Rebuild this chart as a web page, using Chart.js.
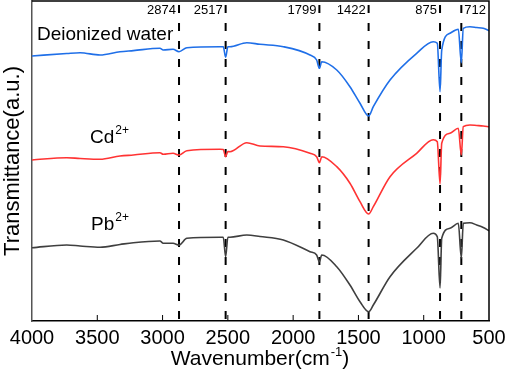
<!DOCTYPE html>
<html>
<head>
<meta charset="utf-8">
<script src="https://cdn.jsdelivr.net/npm/chart.js@4.4.1/dist/chart.umd.min.js"></script>
<style>
  html, body { margin: 0; padding: 0; background: #fff; }
  #wrap { width: 505px; height: 374px; }
</style>
</head>
<body>
<div id="wrap"><canvas id="ftirChart"></canvas></div>
<script>
// FTIR spectra (arbitrary transmittance units, curves offset)
const wavenumbers = [4000, 3734, 3632, 3479, 3326, 3224, 3020, 2995, 2920, 2874, 2814, 2560, 2535, 2517, 2500, 2484,
    2355, 2254, 2075, 1871, 1820, 1799, 1781, 1666, 1565, 1488, 1422, 1386, 1258, 1054, 927, 896, 875, 862,
    799, 735, 712, 697, 646, 594, 544, 500];
const waterT = [265, 267.5, 268.3, 266, 269.3, 270.4, 272.7, 271, 271.7, 269.3, 273.3, 274.3, 274.3, 263.7, 274.3, 274.3,
    278.3, 276.7, 274.3, 266, 261, 252.7, 259.3, 251, 234.3, 217.7, 205, 214.3, 241, 267.7, 279.3, 277.7, 229.3, 271,
    287.7, 291.7, 258.3, 292.7, 294.3, 293.5, 292.7, 290.3];
const cdT = [161, 163.3, 162.5, 161.7, 165, 166, 168.3, 166.7, 167.7, 166, 170.3, 171.7, 171.5, 164.3, 169.5, 169.3,
    178.3, 175, 174.3, 167.7, 164.3, 158.3, 164.3, 154.3, 137.7, 119.3, 107, 114.3, 144.3, 167.7, 181.3, 179.3, 137, 177.7,
    187.7, 192.7, 166, 194.3, 196, 195.5, 195, 194.3];
const pbT = [73.3, 76, 75, 73.7, 76.5, 78.3, 80, 77.7, 77.7, 76, 82.7, 83.7, 83.7, 64.3, 83.7, 83.7,
    86, 84.5, 81, 69.3, 66, 59.3, 66, 54.3, 36, 19.3, 9.3, 16, 44.3, 72.7, 87.7, 84.3, 33, 82.7,
    92.7, 97.7, 63, 97.7, 98.3, 96, 93.5, 90.3];
const peaks = [2874, 2517, 1799, 1422, 875, 712];
const xTicks = [4000, 3500, 3000, 2500, 2000, 1500, 1000, 500];

const FONT = "'Liberation Sans', Arial, sans-serif";

function toPoints(vals) {
    return wavenumbers.map((w, i) => ({ x: w, y: vals[i] }));
}

const datasets = [
    { data: toPoints(waterT), borderColor: '#1f6fe8' },
    { data: toPoints(cdT), borderColor: '#ff3333' },
    { data: toPoints(pbT), borderColor: '#3f3f3f' }
].map(d => Object.assign(d, {
    borderWidth: 1.6, pointRadius: 0, fill: false, cubicInterpolationMode: 'monotone'
}));

// dashed marker lines at the assigned bands
peaks.forEach(p => {
    datasets.push({
        data: [{ x: p, y: 316 }, { x: p, y: 0 }],
        borderColor: '#000', borderWidth: 2, borderDash: [8, 10],
        pointRadius: 0, fill: false
    });
});

// superscript text helper
function drawSup(ctx, base, sup, x, y, size, align) {
    ctx.font = size + 'px ' + FONT;
    const wb = ctx.measureText(base).width;
    ctx.font = Math.round(size * 0.62) + 'px ' + FONT;
    const ws = ctx.measureText(sup).width;
    let x0 = x;
    if (align === 'center') x0 = x - (wb + ws) / 2;
    ctx.textAlign = 'left';
    ctx.textBaseline = 'alphabetic';
    ctx.font = size + 'px ' + FONT;
    ctx.fillText(base, x0, y);
    ctx.font = Math.round(size * 0.62) + 'px ' + FONT;
    ctx.fillText(sup, x0 + wb + 1, y - size * 0.45);
    return x0 + wb + ws + 1;
}

const decorations = {
    id: 'decorations',
    afterDatasetsDraw(chart) {
        const ctx = chart.ctx;
        const a = chart.chartArea;
        const xs = chart.scales.x;
        ctx.save();
        // frame top/right
        ctx.strokeStyle = '#000';
        ctx.lineWidth = 1.5;
        ctx.beginPath();
        ctx.moveTo(a.left, a.top);
        ctx.lineTo(a.right, a.top);
        ctx.lineTo(a.right, a.bottom);
        ctx.stroke();
        // inward ticks
        ctx.lineWidth = 1;
        xTicks.forEach(v => {
            const px = xs.getPixelForValue(v);
            if (px <= a.left + 1 || px >= a.right - 1) return;
            ctx.beginPath();
            ctx.moveTo(px, a.bottom);
            ctx.lineTo(px, a.bottom - 6);
            ctx.stroke();
        });
        // peak labels
        ctx.fillStyle = '#000';
        ctx.font = '13px ' + FONT;
        ctx.textBaseline = 'middle';
        peaks.forEach(p => {
            const px = xs.getPixelForValue(p);
            if (p === 712) {
                ctx.textAlign = 'left';
                ctx.fillText(String(p), px + 3, a.top + 9);
            } else {
                ctx.textAlign = 'right';
                ctx.fillText(String(p), px - 3, a.top + 9);
            }
        });
        // series labels
        ctx.textAlign = 'left';
        ctx.textBaseline = 'alphabetic';
        ctx.font = '19px ' + FONT;
        ctx.fillText('Deionized water', 37, 40);
        drawSup(ctx, 'Cd', '2+', 90, 143, 19, 'left');
        drawSup(ctx, 'Pb', '2+', 91, 230, 19, 'left');
        // x axis title
        const end = drawSup(ctx, 'Wavenumber(cm', '-1', 256, 365, 21, 'center');
        ctx.font = '21px ' + FONT;
        ctx.fillText(')', end, 365);
        ctx.restore();
    }
};

new Chart(document.getElementById('ftirChart'), {
    type: 'line',
    data: { datasets: datasets },
    options: {
        responsive: true,
        maintainAspectRatio: false,
        animation: false,
        layout: { padding: { top: 1, right: 16, left: 0, bottom: 0 } },
        plugins: {
            legend: { display: false },
            tooltip: { enabled: false }
        },
        scales: {
            x: {
                type: 'linear',
                reverse: true,
                min: 500,
                max: 4000,
                afterFit: scale => {
                    scale.height = 53;
                    scale.paddingLeft = 0;
                    scale.paddingRight = 0;
                },
                grid: { display: false, drawTicks: false },
                border: { display: true, color: '#000', width: 1.5 },
                ticks: {
                    stepSize: 500,
                    autoSkip: false,
                    maxRotation: 0,
                    padding: 5,
                    color: '#000',
                    font: { family: FONT, size: 20 },
                    callback: v => String(v)
                }
            },
            y: {
                min: 0,
                max: 320,
                afterFit: scale => { scale.width = 32; },
                grid: { display: false, drawTicks: false },
                border: { display: true, color: '#555', width: 1.5 },
                ticks: { display: false },
                title: {
                    display: true,
                    text: 'Transmittance(a.u.)',
                    color: '#000',
                    padding: 0,
                    font: { family: FONT, size: 22 }
                }
            }
        }
    },
    plugins: [decorations]
});
</script>
</body>
</html>
